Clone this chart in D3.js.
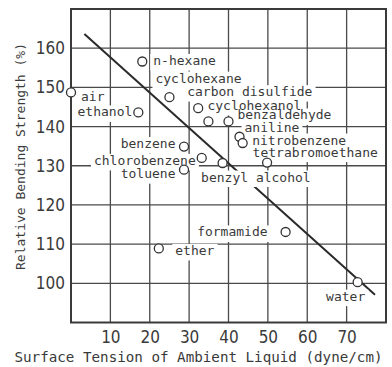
<!DOCTYPE html>
<html>
<head>
<meta charset="utf-8">
<script src="https://cdn.jsdelivr.net/npm/d3@7"></script>
<style>
  html, body { margin: 0; padding: 0; background: #fff; }
  svg { display: block; }
</style>
</head>
<body>
<svg id="chart" width="392" height="367"></svg>
<script>
// Ambient liquids and the measured bending strength of the specimen in each
const liquids = ["air", "ethanol", "n-hexane", "cyclohexane", "carbon disulfide",
  "cyclohexanol", "benzaldehyde", "aniline", "nitrobenzene", "tetrabromoethane",
  "benzyl alcohol", "chlorobenzene", "benzene", "toluene", "ether", "formamide", "water"];
const tension = [0, 17.1, 18.1, 25.0, 32.3, 34.9, 40.0, 42.8, 43.6, 49.8,
  38.5, 33.2, 28.7, 28.7, 22.3, 54.5, 72.8];
const strength = [148.7, 143.6, 156.6, 147.5, 144.7, 141.3, 141.3, 137.4, 135.8, 130.8,
  130.7, 132.0, 134.9, 129.0, 108.9, 113.1, 100.3];

// Straight trend line through the points
const fitTension = [3.4, 77.2];
const fitStrength = [163.6, 97.1];

// Axis ticks
const xTicks = [10, 20, 30, 40, 50, 60, 70];
const yTicks = [100, 110, 120, 130, 140, 150, 160];
const xDomain = [0, 80];
const yDomain = [90, 170];

// Label placement around each marker: [dx, dy, anchor]
const labelPlacement = {
  "air": [10, 9, "start"],
  "ethanol": [-6, 4, "end"],
  "n-hexane": [11, 3.5, "start"],
  "cyclohexane": [-14, -14.5, "start"],
  "carbon disulfide": [-11, -12, "start"],
  "cyclohexanol": [-1, -11.5, "start"],
  "benzaldehyde": [9, -2, "start"],
  "aniline": [5, -4.5, "start"],
  "nitrobenzene": [9.5, 1.5, "start"],
  "tetrabromoethane": [-14.5, -6, "start"],
  "benzyl alcohol": [-21.5, 18.5, "start"],
  "chlorobenzene": [-6, 7, "end"],
  "benzene": [-8.5, 1.5, "end"],
  "toluene": [-8.5, 8.5, "end"],
  "ether": [16.5, 6.5, "start"],
  "formamide": [-18, 4.5, "end"],
  "water": [-12, 18.5, "middle"]
};

const ink = "#333";
const textInk = "#3a3a3a";
const mono = "'DejaVu Sans Mono', 'Liberation Mono', monospace";
const tickFont = "'Liberation Sans Narrow', 'DejaVu Sans Condensed', 'Liberation Sans', sans-serif";

const svg = d3.select("#chart");
const plotLeft = 71, plotRight = 386, plotTop = 9, plotBottom = 322.5;

const x = d3.scaleLinear().domain(xDomain).range([plotLeft, plotRight]);
const y = d3.scaleLinear().domain(yDomain).range([plotBottom, plotTop]);

// Grid: every 10 units inside the frame
const gridX = d3.range(xDomain[0] + 10, xDomain[1], 10);
const gridY = d3.range(yDomain[0] + 10, yDomain[1], 10);

const grid = svg.append("g").attr("stroke", "#4a4a4a").attr("stroke-width", 1.3);
grid.selectAll("line.gx").data(gridX).join("line")
  .attr("class", "gx")
  .attr("x1", d => x(d)).attr("x2", d => x(d))
  .attr("y1", plotTop).attr("y2", plotBottom);
grid.selectAll("line.gy").data(gridY).join("line")
  .attr("class", "gy")
  .attr("x1", plotLeft).attr("x2", plotRight)
  .attr("y1", d => y(d)).attr("y2", d => y(d));

// Tick labels via d3 axes (no tick marks, no domain line)
const xAxis = svg.append("g")
  .attr("transform", `translate(0,${plotBottom})`)
  .call(d3.axisBottom(x).tickValues(xTicks).tickSize(0).tickPadding(8.5).tickFormat(d3.format("d")));
const yAxis = svg.append("g")
  .attr("transform", `translate(${plotLeft},0)`)
  .call(d3.axisLeft(y).tickValues(yTicks).tickSize(0).tickPadding(6).tickFormat(d3.format("d")));
[xAxis, yAxis].forEach(a => {
  a.select(".domain").remove();
  a.selectAll("text")
    .attr("fill", textInk)
    .style("font-family", tickFont)
    .style("font-stretch", "condensed")
    .style("font-size", "17px");
});

// Frame
svg.append("rect")
  .attr("x", plotLeft).attr("y", plotTop)
  .attr("width", plotRight - plotLeft).attr("height", plotBottom - plotTop)
  .attr("fill", "none").attr("stroke", "#3a3a3a").attr("stroke-width", 2);

// Trend line
const line = d3.line().x(d => x(d[0])).y(d => y(d[1]));
svg.append("path")
  .datum(d3.zip(fitTension, fitStrength))
  .attr("d", line)
  .attr("fill", "none").attr("stroke", "#2a2a2a").attr("stroke-width", 2);

// Point labels sit on white patches that interrupt the grid and line behind them
const points = liquids.map((name, i) => {
  const [dx, dy, anchor] = labelPlacement[name];
  return { name, t: tension[i], s: strength[i], dx, dy, anchor };
});
const patches = svg.append("g");
const labels = svg.append("g");
labels.selectAll("text").data(points).join("text")
  .attr("x", d => x(d.t) + d.dx)
  .attr("y", d => y(d.s) + d.dy)
  .attr("text-anchor", d => d.anchor)
  .attr("fill", textInk)
  .style("font-family", mono)
  .style("font-size", "13px")
  .text(d => d.name)
  .each(function (d) {
    const b = this.getBBox();
    const baseline = y(d.s) + d.dy;
    patches.append("rect")
      .attr("x", b.x - 3).attr("y", baseline - 11)
      .attr("width", b.width + 6).attr("height", 16.5)
      .attr("fill", "#fff");
  });

// Open circle markers
svg.append("g").selectAll("circle").data(points).join("circle")
  .attr("cx", d => x(d.t)).attr("cy", d => y(d.s))
  .attr("r", 4.5)
  .attr("fill", "#fff").attr("stroke", ink).attr("stroke-width", 1.3);

// Axis titles
svg.append("text")
  .attr("x", 198.5).attr("y", 361.5)
  .attr("text-anchor", "middle")
  .attr("textLength", 368).attr("lengthAdjust", "spacingAndGlyphs")
  .attr("fill", textInk)
  .style("font-family", mono).style("font-size", "14.2px")
  .text("Surface Tension of Ambient Liquid (dyne/cm)");

svg.append("text")
  .attr("transform", "translate(24.5,156.5) rotate(-90)")
  .attr("text-anchor", "middle")
  .attr("textLength", 227).attr("lengthAdjust", "spacingAndGlyphs")
  .attr("fill", textInk)
  .style("font-family", mono).style("font-size", "13px")
  .text("Relative Bending Strength (%)");
</script>
</body>
</html>
